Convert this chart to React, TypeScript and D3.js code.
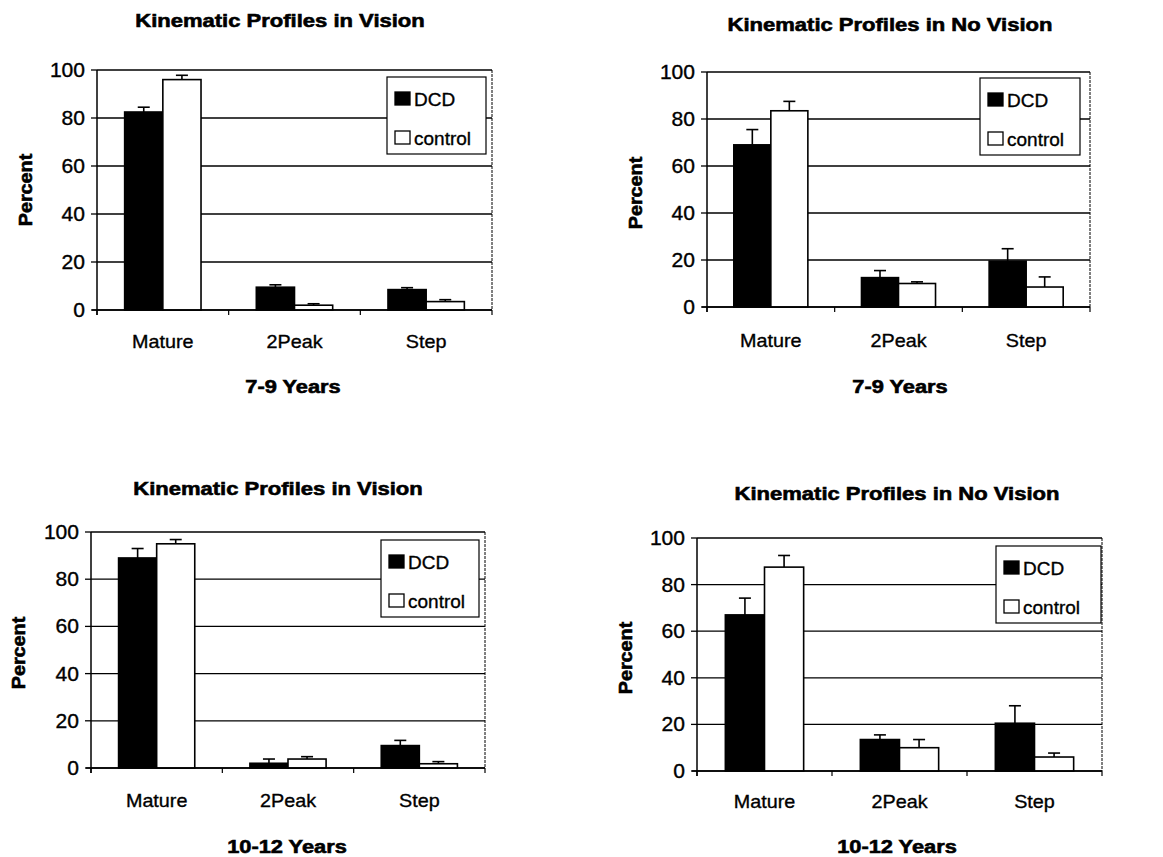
import React from "react";
import * as d3 from "d3";

const categories = ["Mature", "2Peak", "Step"];
const seriesNames = ["DCD", "control"];
const yTicks = [0, 20, 40, 60, 80, 100];

const titles = [
  "Kinematic Profiles in Vision",
  "Kinematic Profiles in No Vision",
  "Kinematic Profiles in Vision",
  "Kinematic Profiles in No Vision",
];
const ageLabels = ["7-9 Years", "7-9 Years", "10-12 Years", "10-12 Years"];

// panel 1: Vision 7-9
const dcd1 = [82.5, 9.5, 8.5];
const dcdErr1 = [2, 1, 0.8];
const ctl1 = [96, 2, 3.5];
const ctlErr1 = [1.8, 0.6, 0.8];
// panel 2: No Vision 7-9
const dcd2 = [69, 12.5, 19.5];
const dcdErr2 = [6.5, 3, 5.3];
const ctl2 = [83.5, 10, 8.5];
const ctlErr2 = [4, 0.7, 4.3];
// panel 3: Vision 10-12
const dcd3 = [89, 2, 9.5];
const dcdErr3 = [4, 1.8, 2.2];
const ctl3 = [95, 3.8, 1.8];
const ctlErr3 = [1.8, 1, 0.9];
// panel 4: No Vision 10-12
const dcd4 = [67, 13.5, 20.5];
const dcdErr4 = [7.2, 2, 7.5];
const ctl4 = [87.5, 10, 6];
const ctlErr4 = [5, 3.5, 1.7];

const panelData = [
  { dcd: dcd1, dcdErr: dcdErr1, ctl: ctl1, ctlErr: ctlErr1 },
  { dcd: dcd2, dcdErr: dcdErr2, ctl: ctl2, ctlErr: ctlErr2 },
  { dcd: dcd3, dcdErr: dcdErr3, ctl: ctl3, ctlErr: ctlErr3 },
  { dcd: dcd4, dcdErr: dcdErr4, ctl: ctl4, ctlErr: ctlErr4 },
];

// layout
const layouts = [
  { x0: 97, x1: 492, y0: 70, y1: 310, tx: 280, ty: 27, px: 32, py: 190, cy: 348, ax: 293, ay: 393, lg: [387, 77, 99, 77] },
  { x0: 707, x1: 1090, y0: 72, y1: 307, tx: 890, ty: 31, px: 642, py: 193, cy: 347, ax: 900, ay: 393, lg: [980, 78, 100, 77] },
  { x0: 91, x1: 485, y0: 532, y1: 768, tx: 278, ty: 495, px: 25, py: 653, cy: 807, ax: 287, ay: 853, lg: [381, 540, 98, 77] },
  { x0: 697, x1: 1102, y0: 538, y1: 771, tx: 897, ty: 500, px: 632, py: 658, cy: 808, ax: 897, ay: 853, lg: [996, 546, 105, 77] },
];

const FONT = "'Liberation Sans', Arial, sans-serif";

function T({ x, y, size = 17, bold = false, anchor = "middle", sx = 1.15, rotate = 0, children }: any) {
  return (
    <text
      transform={`translate(${x},${y}) rotate(${rotate}) scale(${sx},1)`}
      fontSize={size}
      fontWeight={bold ? "bold" : "normal"}
      textAnchor={anchor}
      fontFamily={FONT}
      fill="#000"
      stroke="#000"
      strokeWidth={bold ? 0.6 : 0.35}
    >
      {children}
    </text>
  );
}

function Panel({ i }: { i: number }) {
  const L = layouts[i];
  const D = panelData[i];
  const x = d3.scaleBand<string>().domain(categories).range([L.x0, L.x1]).padding(0);
  const y = d3.scaleLinear().domain([0, 100]).range([L.y1, L.y0]);
  const bw = x.bandwidth() * 0.29;
  const series = [
    { vals: D.dcd, errs: D.dcdErr, fill: "#000" },
    { vals: D.ctl, errs: D.ctlErr, fill: "#fff" },
  ];
  const [lx, ly, lw, lh] = L.lg;
  const boundaries = [...categories.map((c) => x(c)!), L.x1];
  return (
    <g>
      <T x={L.tx} y={L.ty} size={18.5} bold sx={1.19}>{titles[i]}</T>
      {yTicks.map((t) => (
        <line key={t} x1={L.x0} x2={L.x1} y1={y(t)} y2={y(t)} stroke="#000" strokeWidth={1.3} />
      ))}
      <line x1={L.x1} x2={L.x1} y1={L.y0} y2={L.y1} stroke="#000" strokeWidth={1} strokeDasharray="3,1" />
      {series.map((s, si) =>
        categories.map((c, ci) => {
          const cx = x(c)! + x.bandwidth() / 2;
          const bx = cx - bw + si * bw;
          const top = y(s.vals[ci]);
          const et = y(s.vals[ci] + s.errs[ci]);
          const ex = bx + bw / 2;
          return (
            <g key={`${si}-${ci}`}>
              <line x1={ex} x2={ex} y1={top} y2={et} stroke="#000" strokeWidth={1.6} />
              <line x1={ex - 6} x2={ex + 6} y1={et} y2={et} stroke="#000" strokeWidth={1.6} />
              <rect x={bx} y={top} width={bw} height={L.y1 - top} fill={s.fill} stroke="#000" strokeWidth={1.6} />
            </g>
          );
        })
      )}
      <line x1={L.x0} x2={L.x0} y1={L.y0} y2={L.y1 + 5} stroke="#000" strokeWidth={1.5} />
      <line x1={L.x0 - 5} x2={L.x1} y1={L.y1} y2={L.y1} stroke="#000" strokeWidth={1.5} />
      {yTicks.map((t) => (
        <g key={t}>
          <line x1={L.x0 - 6} x2={L.x0} y1={y(t)} y2={y(t)} stroke="#000" strokeWidth={1.3} />
          <T x={L.x0 - 12} y={y(t) + 7} anchor="end" size={19.5} sx={1.08}>{String(t)}</T>
        </g>
      ))}
      {boundaries.map((b, bi) => (
        <line key={bi} x1={b} x2={b} y1={L.y1} y2={L.y1 + 5} stroke="#000" strokeWidth={1.2} />
      ))}
      {categories.map((c) => (
        <T key={c} x={x(c)! + x.bandwidth() / 2} y={L.cy} size={19} sx={1.04}>{c}</T>
      ))}
      <T x={L.ax} y={L.ay} size={18.5} bold sx={1.18}>{ageLabels[i]}</T>
      <T x={L.px} y={L.py} size={18.5} bold rotate={-90} sx={1.07}>Percent</T>
      <rect x={lx} y={ly} width={lw} height={lh} fill="#fff" stroke="#000" strokeWidth={1.2} />
      {seriesNames.map((n, ni) => (
        <g key={n}>
          <rect x={lx + 8} y={ly + 15 + ni * 39} width={15} height={13} fill={ni === 0 ? "#000" : "#fff"} stroke="#000" strokeWidth={1.3} />
          <T x={lx + 27} y={ly + 29 + ni * 39} anchor="start" size={19} sx={1.0}>{n}</T>
        </g>
      ))}
    </g>
  );
}

export default function App() {
  return (
    <svg width={1163} height={857} style={{ position: "absolute", left: 0, top: 0, background: "#fff" }}>
      <rect width={1163} height={857} fill="#fff" />
      {[0, 1, 2, 3].map((i) => (
        <Panel key={i} i={i} />
      ))}
    </svg>
  );
}
